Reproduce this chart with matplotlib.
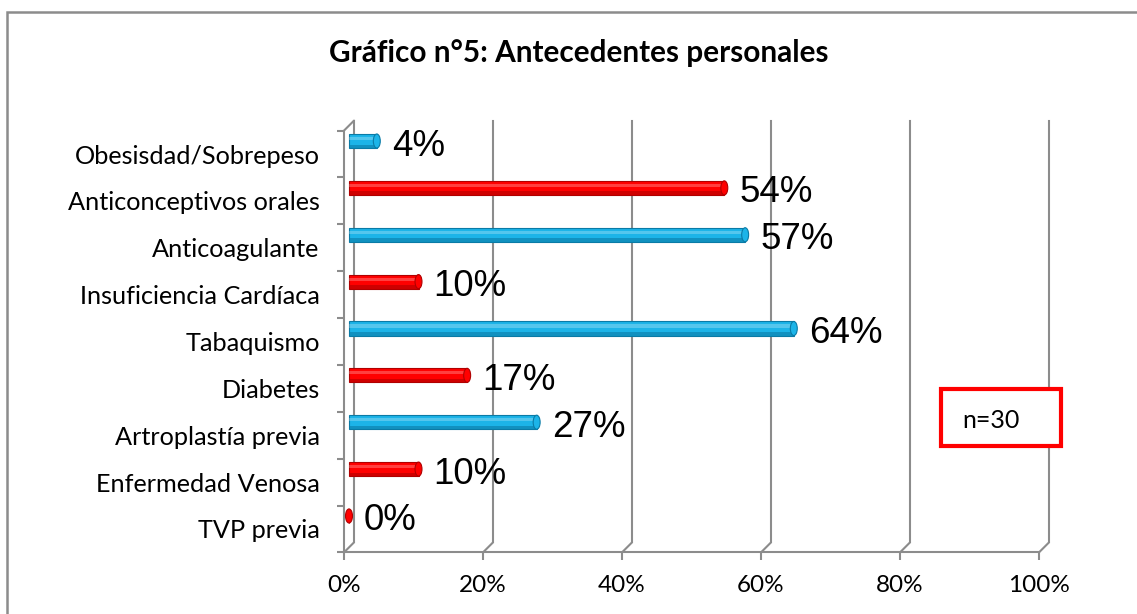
import matplotlib
matplotlib.use("Agg")
import matplotlib.pyplot as plt
from matplotlib.patches import Rectangle, Ellipse
from matplotlib.transforms import ScaledTranslation

categories = ["TVP previa", "Enfermedad Venosa", "Artroplastía previa", "Diabetes",
              "Tabaquismo", "Insuficiencia Cardíaca", "Anticoagulante",
              "Anticonceptivos orales", "Obesisdad/Sobrepeso"]
values = [0, 10, 27, 17, 64, 10, 57, 54, 4]
colors = ["#FF0000", "#FF0000", "#1CB4E8", "#FF0000", "#1CB4E8", "#FF0000", "#1CB4E8", "#FF0000", "#1CB4E8"]
edge_colors = {"#FF0000": "#B00000", "#1CB4E8": "#0A7BA6"}
xticks = [0, 20, 40, 60, 80, 100]
title = "Gráfico n°5: Antecedentes personales"
note = "n=30"

W, H, DPI = 1137, 614, 100
fig = plt.figure(figsize=(W / DPI, H / DPI), dpi=DPI)

# front plane of the pseudo-3D plot area
x0, x1 = 344, 1039
y_top, y_bot = 130.6, 552.4
ax = fig.add_axes([x0 / W, 1 - y_bot / H, (x1 - x0) / W, (y_bot - y_top) / H])
ax.set_xlim(0, 100)
ax.set_ylim(-0.5, len(categories) - 0.5)

grid_c = "#8C8C8C"
lw = 1.5


def px(dx, dy):
    return ScaledTranslation(dx / DPI, dy / DPI, fig.dpi_scale_trans)


back_x = ax.get_xaxis_transform() + px(10, 10)

# back wall gridlines
for t in xticks:
    ax.plot([t, t], [0, 1], transform=back_x, color=grid_c, lw=lw, clip_on=False, zorder=1)
    # floor connectors
    ax.annotate("", xy=(t, -0.5), xytext=(7.2, 7.2), textcoords="offset points",
                arrowprops=dict(arrowstyle="-", color=grid_c, lw=lw, shrinkA=0, shrinkB=0),
                annotation_clip=False, zorder=1)
# top-left connector
ax.annotate("", xy=(0, len(categories) - 0.5), xytext=(7.2, 7.2), textcoords="offset points",
            arrowprops=dict(arrowstyle="-", color=grid_c, lw=lw, shrinkA=0, shrinkB=0),
            annotation_clip=False, zorder=1)

for s in ["top", "right"]:
    ax.spines[s].set_visible(False)
for s in ["left", "bottom"]:
    ax.spines[s].set_color(grid_c)
    ax.spines[s].set_linewidth(lw)
ax.set_yticks([i - 0.5 for i in range(len(categories) + 1)], minor=False)
ax.set_yticklabels([])
ax.tick_params(axis="y", length=5, color=grid_c, width=lw)
ax.set_yticks(range(len(categories)), minor=True)
ax.set_yticklabels(categories, minor=True, fontsize=18.2, family="Lato")
ax.tick_params(axis="y", which="minor", length=0, pad=17.5)
ax.set_xticks(xticks)
ax.set_xticklabels([f"{t}%" for t in xticks], fontsize=17.5, family="Lato")
ax.tick_params(axis="x", length=6, color=grid_c, width=lw, pad=10)
ax.patch.set_visible(False)

# cylinder bars
bar_off = px(5, 13)
h = 0.3
bars = ax.barh(range(len(categories)), values, height=h, color=colors, zorder=3)
for b, c, v, i in zip(bars, colors, values, range(len(categories))):
    b.set_transform(ax.transData + bar_off)
    b.set_edgecolor(edge_colors[c])
    b.set_linewidth(0.8)
    hl = Rectangle((0, i + 0.02), v, h * 0.22, facecolor="white", alpha=0.25, lw=0,
                   transform=ax.transData + bar_off, zorder=4)
    ax.add_patch(hl)
    sh = Rectangle((0, i - h / 2), v, h * 0.25, facecolor=edge_colors[c], alpha=0.6, lw=0,
                   transform=ax.transData + bar_off, zorder=4)
    ax.add_patch(sh)
    cap = Ellipse((v, i), 1.0, h, facecolor=c, edgecolor=edge_colors[c], lw=0.8,
                  transform=ax.transData + bar_off, zorder=5)
    ax.add_patch(cap)
    ax.text(v, i, f"{v}%", transform=ax.transData + px(20, 8), ha="left", va="center",
            fontsize=26.5, family="Liberation Sans", color="black", zorder=6)

fig.text(579 / W, 1 - 53 / H, title, ha="center", va="center", fontsize=21.4,
         fontweight="bold", family="Lato")

# n=30 box
fig.patches.append(Rectangle((941 / W, 1 - 446 / H), 120 / W, 57 / H, transform=fig.transFigure,
                             facecolor="white", edgecolor="#FF0000", lw=3))
fig.text(962 / W, 1 - 420 / H, note, ha="left", va="center", fontsize=18, family="Lato")

# outer chart border
fig.patches.append(Rectangle((7 / W, -0.05), 1.2, 1 - 12 / H + 0.05, transform=fig.transFigure,
                             facecolor="none", edgecolor="#8C8C8C", lw=1.8))

fig.savefig("out.png", dpi=DPI)
